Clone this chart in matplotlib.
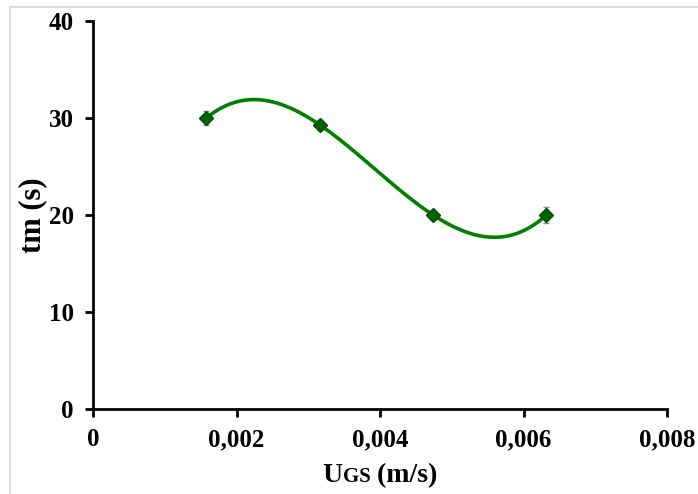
import numpy as np
import matplotlib
matplotlib.use("Agg")
import matplotlib.pyplot as plt
from matplotlib.patches import Rectangle
from matplotlib.ticker import FuncFormatter

plt.rcParams['font.family'] = ['Liberation Serif', 'DejaVu Serif']
plt.rcParams['font.weight'] = 'bold'

# superficial gas velocity (m/s) and mixing time (s)
ugs = [0.00158, 0.00316, 0.00474, 0.00632]
tm = [30.0, 29.3, 20.0, 20.0]
tm_err = [0.7, 0.5, 0.5, 0.8]

x_ticks = [0, 0.002, 0.004, 0.006, 0.008]
y_ticks = [0, 10, 20, 30, 40]

fig = plt.figure(figsize=(6.98, 4.94), dpi=100)
ax = fig.add_axes([93 / 698, 1 - 409 / 494, (667 - 93) / 698, (409 - 21) / 494])

# light frame round the chart area
fig.patches.append(Rectangle((10 / 698, -0.05), 1.0, 1 - 7 / 494 + 0.05,
                             transform=fig.transFigure, fill=False,
                             edgecolor='#dcdcdc', linewidth=1.5, zorder=0))

# third-order polynomial trend through the measurements
coef = np.polyfit(ugs, tm, 3)
xs = np.linspace(min(ugs), max(ugs), 300)
ax.plot(xs, np.polyval(coef, xs), color='#008000', linewidth=2.6, zorder=2)

ax.errorbar(ugs, tm, yerr=tm_err, fmt='none', ecolor='#8c8c8c',
            elinewidth=1.0, capsize=2, capthick=1.0, zorder=3)
ax.plot(ugs, tm, linestyle='none', marker='D', markersize=7.5,
        markerfacecolor='#006400', markeredgecolor='#004d00',
        markeredgewidth=1.0, zorder=4)

ax.set_xlim(0, 0.008)
ax.set_ylim(0, 40)
ax.set_xticks(x_ticks)
ax.set_yticks(y_ticks)
ax.xaxis.set_major_formatter(FuncFormatter(
    lambda v, p: '0' if v == 0 else ('%.3f' % v).replace('.', ',')))

for side in ['top', 'right']:
    ax.spines[side].set_visible(False)
for side in ['left', 'bottom']:
    ax.spines[side].set_linewidth(2.0)
ax.tick_params(direction='out', length=6, width=2.0, labelsize=18, pad=8)
for lab in ax.get_xticklabels() + ax.get_yticklabels():
    lab.set_fontweight('bold')

ax.set_ylabel('tm (s)', fontsize=22, fontweight='bold', labelpad=1)

# x label with small-caps subscript style "U" + "GS"
fig.canvas.draw()
renderer = fig.canvas.get_renderer()
parts = [('U', 20), ('GS', 15), (' (m/s)', 20)]
widths = []
for s, fs in parts:
    t = fig.text(0, 0, s, fontsize=fs, fontweight='bold')
    widths.append(t.get_window_extent(renderer).width)
    t.remove()
x0 = (93 + 667) / 2 - sum(widths) / 2
for (s, fs), w in zip(parts, widths):
    fig.text(x0 / 698, 1 - 482 / 494, s, fontsize=fs, fontweight='bold',
             ha='left', va='baseline')
    x0 += w

fig.savefig('out.png', dpi=100)
